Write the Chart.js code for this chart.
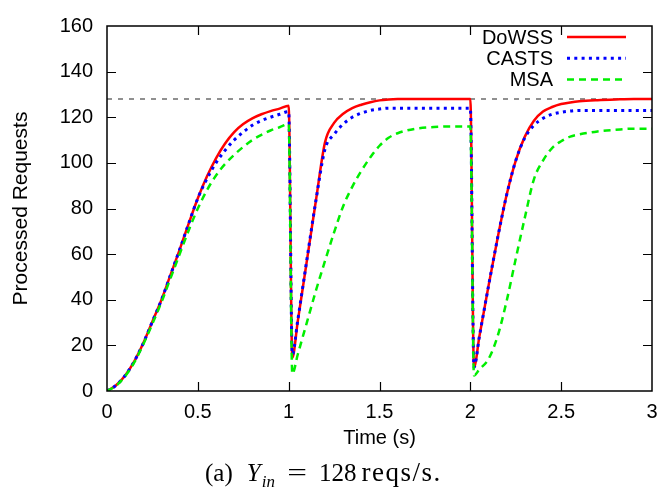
<!DOCTYPE html>
<html>
<head>
<meta charset="utf-8">
<script src="https://cdn.jsdelivr.net/npm/chart.js@4.4.1/dist/chart.umd.min.js"></script>
<style>
  html, body { margin: 0; padding: 0; background: #fff; }
  #wrap { position: relative; width: 661px; height: 490px; }
  #caption {
    position: absolute; left: 205px; top: 458px; line-height: 29px; white-space: nowrap;
    font-family: 'Liberation Serif', serif; font-size: 25px; color: #000;
  }
  #caption .y { margin-left: 14px; }
  #caption .sub { font-size: 68%; position: relative; top: 6px; margin-left: 1px; }
  #caption .eq { display: inline-block; transform: scaleX(1.4); margin-left: 15px; margin-right: 15px; }
  #caption .unit { margin-left: 5px; letter-spacing: 1.5px; font-size: 27px; }
</style>
</head>
<body>
<div id="wrap">
  <canvas id="chart" width="661" height="490"></canvas>
  <div id="caption"><span>(a)</span><i class="y">Y</i><i class="sub">in</i><span class="eq">=</span><span>128</span><span class="unit">reqs/s.</span></div>
</div>
<script>
// time in seconds, shared by all three series
const time = [
    0, 0.05, 0.1, 0.15, 0.2, 0.25, 0.3, 0.35, 0.4, 0.45,
    0.5, 0.55, 0.6, 0.65, 0.7, 0.75, 0.8, 0.85, 0.9, 0.95,
    1.0, 1.02, 1.05, 1.1, 1.15, 1.2, 1.25, 1.3, 1.35, 1.4,
    1.45, 1.5, 1.55, 1.6, 1.7, 1.8, 1.9, 2.0, 2.02, 2.05,
    2.1, 2.15, 2.2, 2.25, 2.3, 2.35, 2.4, 2.45, 2.5, 2.55,
    2.6, 2.7, 2.8, 2.9, 3.0,
];

const dowss = [
    0, 2.5, 6.8, 13, 21, 30.5, 40, 51, 62, 73.5,
    84.5, 94, 102, 108.5, 113.5, 117, 119.5, 121.3, 122.7, 123.8,
    125, 14.6, 30.5, 57, 83.5, 109, 117.5, 121.5, 124, 125.5,
    126.6, 127.4, 127.8, 128, 128, 128, 128, 128, 10.4, 24,
    46, 67, 86, 101, 111.5, 118.5, 122.5, 124.5, 125.8, 126.5,
    127, 127.5, 127.8, 128, 128,
];

const casts = [
    0, 2.5, 6.8, 13, 21, 30.5, 40, 51, 62, 73.5,
    84.5, 93, 100, 105.5, 110, 113.5, 116.5, 118.5, 120, 121.3,
    122.5, 16, 31, 57.5, 83.5, 106, 112.5, 117, 120, 121.8,
    123, 123.6, 124, 124, 124, 124, 124, 124, 10.4, 24,
    46, 67, 86, 101, 111, 116.5, 119.5, 121.3, 122.2, 122.7,
    123, 123, 123, 123, 123,
];

const msa = [
    0, 2.3, 6.5, 12.5, 20.5, 29.5, 39, 49.5, 60, 70.5,
    80, 88, 94.5, 99.5, 103.5, 107, 110, 112.3, 114.2, 115.6,
    117, 7.5, 16, 30, 44, 57, 69.5, 81, 89.5, 96.5,
    102.5, 107.5, 111, 113, 115, 115.7, 116, 116, 6.8, 9.5,
    14, 24, 39.5, 58, 76, 92.8, 101, 106.5, 109.5, 111.5,
    112.5, 113.8, 114.5, 115, 115,
];

// input rate reference line
const refTime = [0, 3];
const refLevel = [128, 128];

const xTicks = [0, 0.5, 1, 1.5, 2, 2.5, 3];
const yTicks = [0, 20, 40, 60, 80, 100, 120, 140, 160];

const FONT = { family: "'Liberation Sans', Arial, sans-serif", size: 20 };

const toPoints = (xs, ys) => xs.map((x, i) => ({ x, y: ys[i] }));

// gnuplot style frame, inward ticks and key
const framePlugin = {
    id: 'frame',
    afterDraw(chart) {
        const { ctx, chartArea: a } = chart;
        const { x, y } = chart.scales;
        const tick = 9;

        ctx.save();
        ctx.strokeStyle = '#000';
        ctx.lineWidth = 1.5;
        ctx.setLineDash([]);
        ctx.strokeRect(a.left, a.top, a.right - a.left, a.bottom - a.top);

        ctx.lineWidth = 1.2;
        ctx.beginPath();
        x.ticks.forEach((t) => {
            const px = Math.round(x.getPixelForValue(t.value)) + 0.5;
            if (px <= a.left + 2 || px >= a.right - 2) return;
            ctx.moveTo(px, a.bottom);
            ctx.lineTo(px, a.bottom - tick);
            ctx.moveTo(px, a.top);
            ctx.lineTo(px, a.top + tick);
        });
        y.ticks.forEach((t) => {
            const py = Math.round(y.getPixelForValue(t.value)) + 0.5;
            if (py <= a.top + 2 || py >= a.bottom - 2) return;
            ctx.moveTo(a.left, py);
            ctx.lineTo(a.left + tick, py);
            ctx.moveTo(a.right, py);
            ctx.lineTo(a.right - tick, py);
        });
        ctx.stroke();

        // key
        const keyRows = chart.data.datasets.filter((d) => d.inKey);
        keyRows.sort((p, q) => p.keyIndex - q.keyIndex);
        ctx.font = `${FONT.size}px ${FONT.family}`;
        ctx.textAlign = 'right';
        ctx.textBaseline = 'middle';
        keyRows.forEach((d, i) => {
            const cy = 37 + i * 21.3;
            ctx.fillStyle = '#000';
            ctx.fillText(d.label, 553, cy + 1);
            ctx.strokeStyle = d.borderColor;
            ctx.lineWidth = d.borderWidth;
            ctx.setLineDash(d.borderDash || []);
            ctx.beginPath();
            ctx.moveTo(567, cy);
            ctx.lineTo(626, cy);
            ctx.stroke();
        });
        ctx.restore();
    },
};

new Chart(document.getElementById('chart'), {
    type: 'line',
    data: {
        datasets: [
            {
                label: 'MSA',
                data: toPoints(time, msa),
                borderColor: '#00ee00',
                borderWidth: 2.5,
                borderDash: [7, 5],
                order: 0,
                inKey: true,
                keyIndex: 2,
            },
            {
                label: 'CASTS',
                data: toPoints(time, casts),
                borderColor: '#0000ff',
                borderWidth: 3,
                borderDash: [3, 4.3],
                order: 1,
                inKey: true,
                keyIndex: 1,
            },
            {
                label: 'DoWSS',
                data: toPoints(time, dowss),
                borderColor: '#ff0000',
                borderWidth: 2.5,
                order: 2,
                inKey: true,
                keyIndex: 0,
            },
            {
                label: 'ref',
                data: toPoints(refTime, refLevel),
                borderColor: '#222',
                borderWidth: 1.1,
                borderDash: [5, 6],
                order: 3,
            },
        ],
    },
    options: {
        responsive: false,
        animation: false,
        layout: { padding: { left: 0, right: 9, top: 16, bottom: 40 } },
        elements: {
            point: { radius: 0, hoverRadius: 0 },
            line: { cubicInterpolationMode: 'monotone', borderCapStyle: 'butt' },
        },
        plugins: {
            legend: { display: false },
            tooltip: { enabled: false },
        },
        scales: {
            x: {
                type: 'linear',
                min: 0,
                max: 3,
                afterBuildTicks: (scale) => { scale.ticks = xTicks.map((value) => ({ value })); },
                afterFit: (scale) => {
                    scale.height = 59;
                    scale.paddingLeft = 0;
                    scale.paddingRight = 0;
                },
                grid: { display: false, drawTicks: false },
                border: { display: false },
                ticks: { color: '#000', font: FONT, padding: 9, maxRotation: 0, callback: (value) => String(value) },
                title: { display: true, text: 'Time (s)', color: '#000', font: FONT, padding: { top: 0, bottom: 0 } },
            },
            y: {
                type: 'linear',
                min: 0,
                max: 160,
                afterBuildTicks: (scale) => { scale.ticks = yTicks.map((value) => ({ value })); },
                afterFit: (scale) => { scale.width = 107; },
                grid: { display: false, drawTicks: false },
                border: { display: false },
                ticks: { color: '#000', font: FONT, padding: 14 },
                title: { display: true, text: 'Processed Requests', color: '#000', font: { ...FONT, size: 21 }, padding: { top: 9, bottom: 0 } },
            },
        },
    },
    plugins: [framePlugin],
});
</script>
</body>
</html>
